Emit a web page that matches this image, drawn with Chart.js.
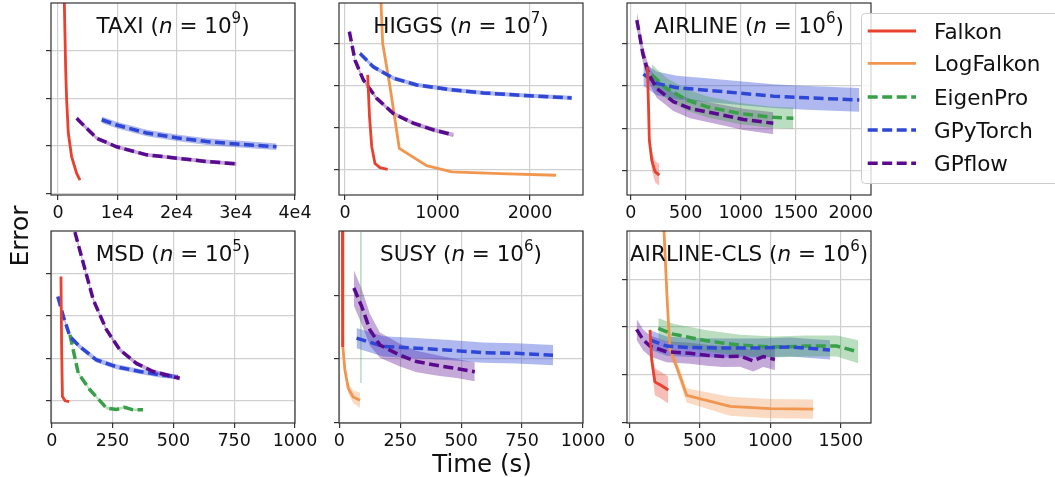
<!DOCTYPE html>
<html><head><meta charset="utf-8">
<script src="https://cdn.jsdelivr.net/npm/chart.js@4.4.0/dist/chart.umd.min.js"></script>
<style>
html,body{margin:0;padding:0;background:#fff;overflow:hidden;width:1055px;height:477px;}
canvas.pc{position:absolute;}
svg#ov{position:absolute;left:0;top:0;pointer-events:none;}
</style></head><body>
<canvas id="c0" class="pc"></canvas><canvas id="c1" class="pc"></canvas><canvas id="c2" class="pc"></canvas>
<canvas id="c3" class="pc"></canvas><canvas id="c4" class="pc"></canvas><canvas id="c5" class="pc"></canvas>
<svg id="ov" width="1055" height="477" xmlns="http://www.w3.org/2000/svg" font-family="DejaVu Sans" fill="#111">
  <text transform="translate(28,236) rotate(-90)" text-anchor="middle" font-size="25">Error</text>
  <text x="482" y="471.5" text-anchor="middle" font-size="24.5">Time (s)</text>
  <g id="legend" transform="translate(861,13)"></g>
</svg>
<script>
// ---------------- data ----------------
const methods = ["Falkon", "LogFalkon", "EigenPro", "GPyTorch", "GPflow"];

// TAXI (n = 10^9)
const taxiFalkonX = [1000, 1060, 1300, 1460, 1740, 2300, 3150, 3710];
const taxiFalkonY = [5.0, 4.08, 2.6, 1.97, 1.27, 0.77, 0.42, 0.28];
const taxiGpflowX = [3150, 6530, 9900, 14960, 20020, 25080, 30130];
const taxiGpflowY = [1.58, 1.16, 0.98, 0.81, 0.74, 0.67, 0.62];
const taxiGpflowErr = [0.05, 0.04, 0.04, 0.04, 0.04, 0.04, 0.04];
const taxiGpytorchX = [7370, 9900, 14960, 20020, 25080, 30130, 36880];
const taxiGpytorchY = [1.55, 1.44, 1.27, 1.17, 1.09, 1.04, 0.98];
const taxiGpytorchErr = [0.07, 0.07, 0.07, 0.07, 0.07, 0.07, 0.07];

// HIGGS (n = 10^7)
const higgsFalkonX = [245, 265, 289, 324, 378, 461];
const higgsFalkonY = [2.25, 1.25, 0.54, 0.14, 0.04, 0.0];
const higgsLogFalkonX = [370, 407, 486, 587, 883, 1153, 1676, 2281];
const higgsLogFalkonY = [5.0, 3.0, 1.97, 0.5, 0.09, -0.06, -0.1, -0.14];
const higgsGpytorchX = [162, 306, 522, 775, 1135, 1495, 1856, 2451];
const higgsGpytorchY = [2.76, 2.44, 2.17, 2.01, 1.9, 1.82, 1.77, 1.7];
const higgsGpytorchErr = [0.05, 0.05, 0.05, 0.05, 0.05, 0.05, 0.05, 0.05];
const higgsGpflowX = [47, 72, 108, 198, 342, 522, 738, 955, 1171];
const higgsGpflowY = [3.28, 3.0, 2.6, 2.13, 1.69, 1.33, 1.1, 0.94, 0.82];
const higgsGpflowErr = [0.05, 0.05, 0.05, 0.05, 0.05, 0.05, 0.05, 0.05, 0.05];

// AIRLINE (n = 10^6)
const airFalkonX = [151, 160, 169, 191, 221, 260];
const airFalkonY = [2.45, 1.67, 0.72, 0.25, -0.02, -0.1];
const airFalkonErr = [0.12, 0.15, 0.18, 0.22, 0.25, 0.26];
const airGpflowX = [55, 78, 109, 160, 236, 387, 539, 842, 1024, 1296];
const airGpflowY = [3.55, 3.24, 2.77, 2.3, 1.94, 1.63, 1.47, 1.31, 1.21, 1.12];
const airGpflowErr = [0.2, 0.2, 0.2, 0.2, 0.22, 0.22, 0.23, 0.24, 0.25, 0.26];
const airGpytorchX = [115, 236, 418, 691, 994, 1296, 1600, 2078];
const airGpytorchY = [2.28, 2.06, 1.96, 1.9, 1.83, 1.76, 1.72, 1.67];
const airGpytorchErr = [0.28, 0.28, 0.28, 0.28, 0.28, 0.28, 0.28, 0.28];
const airEigenproX = [191, 327, 509, 691, 994, 1296, 1478];
const airEigenproY = [2.26, 1.94, 1.67, 1.51, 1.35, 1.26, 1.24];
const airEigenproErr = [0.25, 0.25, 0.25, 0.25, 0.25, 0.25, 0.25];

// MSD (n = 10^5)
const msdFalkonX = [38, 41, 44, 55, 72];
const msdFalkonY = [2.92, 1.12, 0.1, 0.0, -0.02];
const msdGpytorchX = [25, 48, 75, 116, 184, 266, 362, 444, 519];
const msdGpytorchY = [2.45, 1.98, 1.51, 1.27, 0.96, 0.8, 0.69, 0.61, 0.56];
const msdGpytorchErr = [0.06, 0.06, 0.06, 0.06, 0.06, 0.06, 0.06, 0.06, 0.06];
const msdGpflowX = [85, 95, 130, 171, 225, 280, 348, 416, 526];
const msdGpflowY = [4.3, 3.97, 3.23, 2.37, 1.67, 1.2, 0.88, 0.69, 0.53];
const msdGpflowErr = [0.05, 0.05, 0.05, 0.05, 0.05, 0.05, 0.05, 0.05, 0.05];
const msdEigenproX = [75, 109, 157, 225, 266, 300, 334, 375];
const msdEigenproY = [1.55, 0.65, 0.26, -0.17, -0.2, -0.15, -0.21, -0.21];
const msdEigenproErr = [0.03, 0.03, 0.03, 0.03, 0.03, 0.03, 0.03, 0.03];

// SUSY (n = 10^6)
const susyFalkonX = [13, 14];
const susyFalkonY = [3.2, 1.19];
const susyLogFalkonX = [13, 15, 23, 37, 57, 85];
const susyLogFalkonY = [3.2, 1.19, 0.83, 0.54, 0.4, 0.35];
const susyLogFalkonErr = [0, 0.02, 0.05, 0.08, 0.1, 0.12];
const susyEigenproX = [88, 89];
const susyEigenproY = [3.01, 0.62];
const susyGpflowX = [60, 92, 126, 167, 249, 317, 413, 481, 556];
const susyGpflowY = [2.12, 1.83, 1.46, 1.22, 1.06, 0.96, 0.89, 0.85, 0.8];
const susyGpflowErr = [0.28, 0.28, 0.25, 0.2, 0.18, 0.17, 0.16, 0.15, 0.15];
const susyGpytorchX = [71, 180, 317, 454, 590, 727, 877];
const susyGpytorchY = [1.33, 1.2, 1.17, 1.14, 1.1, 1.09, 1.06];
const susyGpytorchErr = [0.16, 0.16, 0.16, 0.16, 0.16, 0.16, 0.16];

// AIRLINE-CLS (n = 10^6)
const clsLogFalkonX = [240, 246, 270, 289, 336, 407, 714, 998, 1305];
const clsLogFalkonY = [5.0, 4.03, 2.49, 1.52, 1.17, 0.57, 0.34, 0.29, 0.28];
const clsLogFalkonErr = [0, 0, 0.05, 0.1, 0.12, 0.15, 0.2, 0.2, 0.2];
const clsFalkonX = [147, 159, 182, 230, 277];
const clsFalkonY = [1.94, 1.31, 0.85, 0.77, 0.68];
const clsFalkonErr = [0.05, 0.2, 0.28, 0.28, 0.28];
const clsGpflowX = [52, 99, 147, 265, 430, 549, 667, 785, 879, 950, 1033];
const clsGpflowY = [1.95, 1.73, 1.6, 1.48, 1.45, 1.41, 1.38, 1.39, 1.29, 1.38, 1.32];
const clsGpflowErr = [0.22, 0.22, 0.22, 0.22, 0.22, 0.22, 0.22, 0.22, 0.22, 0.22, 0.22];
const clsGpytorchX = [147, 265, 430, 667, 903, 1140, 1423];
const clsGpytorchY = [1.73, 1.6, 1.57, 1.56, 1.56, 1.58, 1.52];
const clsGpytorchErr = [0.2, 0.2, 0.2, 0.2, 0.2, 0.2, 0.2];
const clsEigenproX = [206, 312, 549, 785, 1021, 1258, 1471, 1624];
const clsEigenproY = [1.97, 1.85, 1.71, 1.62, 1.58, 1.6, 1.6, 1.48];
const clsEigenproErr = [0.22, 0.22, 0.22, 0.22, 0.22, 0.22, 0.22, 0.24];

// tick labels
const taxiXTicks = [0, 10000, 20000, 30000, 40000];
const higgsXTicks = [0, 1000, 2000];
const airXTicks = [0, 500, 1000, 1500, 2000];
const msdXTicks = [0, 250, 500, 750, 1000];
const susyXTicks = [0, 250, 500, 750, 1000];
const clsXTicks = [0, 500, 1000, 1500];

// ---------------- styles ----------------
const FONT = '"DejaVu Sans"';
const COL = {Falkon:'#e9412f', LogFalkon:'#f0964f', EigenPro:'#38a048', GPyTorch:'#2f47d6', GPflow:'#5a0a8f'};
const BANDCOL = {Falkon:'rgba(233,65,47,0.35)', LogFalkon:'rgba(240,150,79,0.35)', EigenPro:'rgba(56,160,72,0.35)', GPyTorch:'rgba(47,71,214,0.38)', GPflow:'rgba(90,10,143,0.35)'};
const DASHED = {Falkon:false, LogFalkon:false, EigenPro:true, GPyTorch:true, GPflow:true};
const LORDER = {Falkon:-1, LogFalkon:3, EigenPro:2, GPyTorch:1, GPflow:0};

const panels = [
  {name:'TAXI', exp:'9', L:51, T:3, xMin:-1180, xMax:40000, yMin:-0.036, yMax:4.01, xt:taxiXTicks, yt:[0,1,2,3],
   fmt:v => v === 0 ? '0' : (v/1e4) + 'e4',
   series:[['Falkon',taxiFalkonX,taxiFalkonY,null],['GPyTorch',taxiGpytorchX,taxiGpytorchY,taxiGpytorchErr],['GPflow',taxiGpflowX,taxiGpflowY,taxiGpflowErr]]},
  {name:'HIGGS', exp:'7', L:339, T:3, xMin:-65, xMax:2573, yMin:-0.61, yMax:3.96, xt:higgsXTicks, yt:[0,1,2,3],
   series:[['Falkon',higgsFalkonX,higgsFalkonY,null],['LogFalkon',higgsLogFalkonX,higgsLogFalkonY,null],['GPyTorch',higgsGpytorchX,higgsGpytorchY,higgsGpytorchErr],['GPflow',higgsGpflowX,higgsGpflowY,higgsGpflowErr]]},
  {name:'AIRLINE', exp:'6', L:627, T:3, xMin:-34, xMax:2184, yMin:-0.57, yMax:3.955, xt:airXTicks, yt:[0,1,2,3],
   series:[['Falkon',airFalkonX,airFalkonY,airFalkonErr],['EigenPro',airEigenproX,airEigenproY,airEigenproErr],['GPyTorch',airGpytorchX,airGpytorchY,airGpytorchErr],['GPflow',airGpflowX,airGpflowY,airGpflowErr]]},
  {name:'MSD', exp:'5', L:51, T:231, xMin:-3, xMax:1000, yMin:-0.52, yMax:3.99, xt:msdXTicks, yt:[0,1,2,3],
   series:[['Falkon',msdFalkonX,msdFalkonY,null],['EigenPro',msdEigenproX,msdEigenproY,msdEigenproErr],['GPyTorch',msdGpytorchX,msdGpytorchY,msdGpytorchErr],['GPflow',msdGpflowX,msdGpflowY,msdGpflowErr]]},
  {name:'SUSY', exp:'6', L:339, T:231, xMin:-1, xMax:1000, yMin:-0.01, yMax:3.02, xt:susyXTicks, yt:[0,1,2],
   series:[['Falkon',susyFalkonX,susyFalkonY,null],['LogFalkon',susyLogFalkonX,susyLogFalkonY,susyLogFalkonErr],['EigenPro',susyEigenproX,susyEigenproY,null,true],['GPyTorch',susyGpytorchX,susyGpytorchY,susyGpytorchErr],['GPflow',susyGpflowX,susyGpflowY,susyGpflowErr]]},
  {name:'AIRLINE-CLS', exp:'6', L:627, T:231, xMin:-16, xMax:1714, yMin:-0.01, yMax:4.01, xt:clsXTicks, yt:[0,1,2,3],
   series:[['Falkon',clsFalkonX,clsFalkonY,clsFalkonErr],['LogFalkon',clsLogFalkonX,clsLogFalkonY,clsLogFalkonErr],['EigenPro',clsEigenproX,clsEigenproY,clsEigenproErr],['GPyTorch',clsGpytorchX,clsGpytorchY,clsGpytorchErr],['GPflow',clsGpflowX,clsGpflowY,clsGpflowErr]]}
];

const PADL = 30, PADR = 30, PADT = 3, XH = 40, PW = 244, PH = 192;
const CW = PADL + PW + PADR, CH = PADT + PH + XH;

const framePlugin = {
  id: 'frame',
  afterDraw(chart) {
    const p = chart.config.options.plugins.frame;
    const a = chart.chartArea, ctx = chart.ctx;
    ctx.save();
    ctx.strokeStyle = '#333'; ctx.lineWidth = 1.2;
    ctx.strokeRect(a.left, a.top, a.right - a.left, a.bottom - a.top);
    // title with math text
    const fs = 21.5;
    const parts = [
      {t: p.name + ' (', f: fs + 'px ' + FONT, dy: 0},
      {t: 'n', f: 'italic ' + fs + 'px ' + FONT, dy: 0},
      {t: ' = 10', f: fs + 'px ' + FONT, dy: 0},
      {t: p.exp, f: (fs*0.7) + 'px ' + FONT, dy: -fs*0.42},
      {t: ')', f: fs + 'px ' + FONT, dy: 0}
    ];
    let tot = 0;
    parts.forEach(q => { ctx.font = q.f; q.w = ctx.measureText(q.t).width; tot += q.w; });
    let x = (a.left + a.right)/2 - tot/2;
    const base = a.top + 29.5;
    ctx.fillStyle = '#111'; ctx.textBaseline = 'alphabetic'; ctx.textAlign = 'left';
    parts.forEach(q => { ctx.font = q.f; ctx.fillText(q.t, x, base + q.dy); x += q.w; });
    ctx.restore();
  }
};

panels.forEach((p, idx) => {
  const cv = document.getElementById('c' + idx);
  cv.width = CW; cv.height = CH;
  cv.style.left = (p.L - PADL) + 'px'; cv.style.top = (p.T - PADT) + 'px';
  cv.style.width = CW + 'px'; cv.style.height = CH + 'px';
  const datasets = [];
  p.series.forEach(s => {
    const [m, xs, ys, err, faint] = s;
    if (err) {
      datasets.push({data: xs.map((v,i) => ({x:v, y:ys[i] + err[i]})), borderWidth:0, borderColor:'rgba(0,0,0,0)', pointRadius:0, fill:false, order:10, tension:0});
      datasets.push({data: xs.map((v,i) => ({x:v, y:ys[i] - err[i]})), borderWidth:0, borderColor:'rgba(0,0,0,0)', pointRadius:0, fill:'-1', backgroundColor:BANDCOL[m], order:10, tension:0});
    }
    datasets.push({
      label: m, data: xs.map((v,i) => ({x:v, y:ys[i]})),
      borderColor: faint ? BANDCOL[m] : COL[m],
      borderWidth: faint ? 1.5 : (DASHED[m] ? 3.5 : 2.8),
      borderDash: (DASHED[m] && !faint) ? [10, 4.5] : [],
      pointRadius: 0, fill: false, tension: 0, order: LORDER[m],
      clip: {left:0, top:0, right:0, bottom:0}
    });
  });
  const fmt = p.fmt || (v => String(v));
  new Chart(cv, {
    type: 'line',
    data: {datasets},
    plugins: [framePlugin],
    options: {
      animation: false, responsive: false, devicePixelRatio: 1, events: [],
      layout: {padding: {top: PADT, right: PADR, left: 0, bottom: 0}},
      plugins: {legend: {display:false}, tooltip: {enabled:false}, frame: {name: p.name, exp: p.exp}},
      scales: {
        x: {type:'linear', min:p.xMin, max:p.xMax,
            afterBuildTicks: sc => { sc.ticks = p.xt.map(v => ({value:v})); },
            afterFit: sc => { sc.height = XH; },
            ticks: {callback: v => fmt(v), autoSkip:false, maxRotation:0, minRotation:0, font:{family:'DejaVu Sans', size:17.5}, color:'#111', padding:3},
            grid: {color:'#d0d0d0', lineWidth:1.2, tickLength:5, tickColor:'#333', tickWidth:1.2},
            border: {display:false}},
        y: {type:'linear', min:p.yMin, max:p.yMax,
            afterBuildTicks: sc => { sc.ticks = p.yt.map(v => ({value:v})); },
            afterFit: sc => { sc.width = PADL; },
            ticks: {display:false, callback: () => '', autoSkip:false},
            grid: {color:'#d0d0d0', lineWidth:1.2, tickLength:5, tickColor:'#333', tickWidth:1.2, drawTicks:true},
            border: {display:false}}
      }
    }
  });
});

// legend
const lg = document.getElementById('legend');
const NS = 'http://www.w3.org/2000/svg';
const rect = document.createElementNS(NS, 'rect');
rect.setAttribute('x', 0.5); rect.setAttribute('y', 0.5); rect.setAttribute('width', 220); rect.setAttribute('height', 170);
rect.setAttribute('rx', 4); rect.setAttribute('fill', 'rgba(255,255,255,0.8)'); rect.setAttribute('stroke', '#cccccc');
lg.appendChild(rect);
const rowY = [18, 50.3, 84, 117, 150.3];
methods.forEach((m, i) => {
  const ln = document.createElementNS(NS, 'line');
  ln.setAttribute('x1', 6.7); ln.setAttribute('x2', 55); ln.setAttribute('y1', rowY[i]); ln.setAttribute('y2', rowY[i]);
  ln.setAttribute('stroke', COL[m]); ln.setAttribute('stroke-width', DASHED[m] ? 3.5 : 2.8);
  if (DASHED[m]) ln.setAttribute('stroke-dasharray', '10 4.5');
  lg.appendChild(ln);
  const tx = document.createElementNS(NS, 'text');
  tx.setAttribute('x', 73); tx.setAttribute('y', rowY[i] + 7.8); tx.setAttribute('font-size', 21.5);
  tx.textContent = m;
  lg.appendChild(tx);
});
</script>
</body></html>
